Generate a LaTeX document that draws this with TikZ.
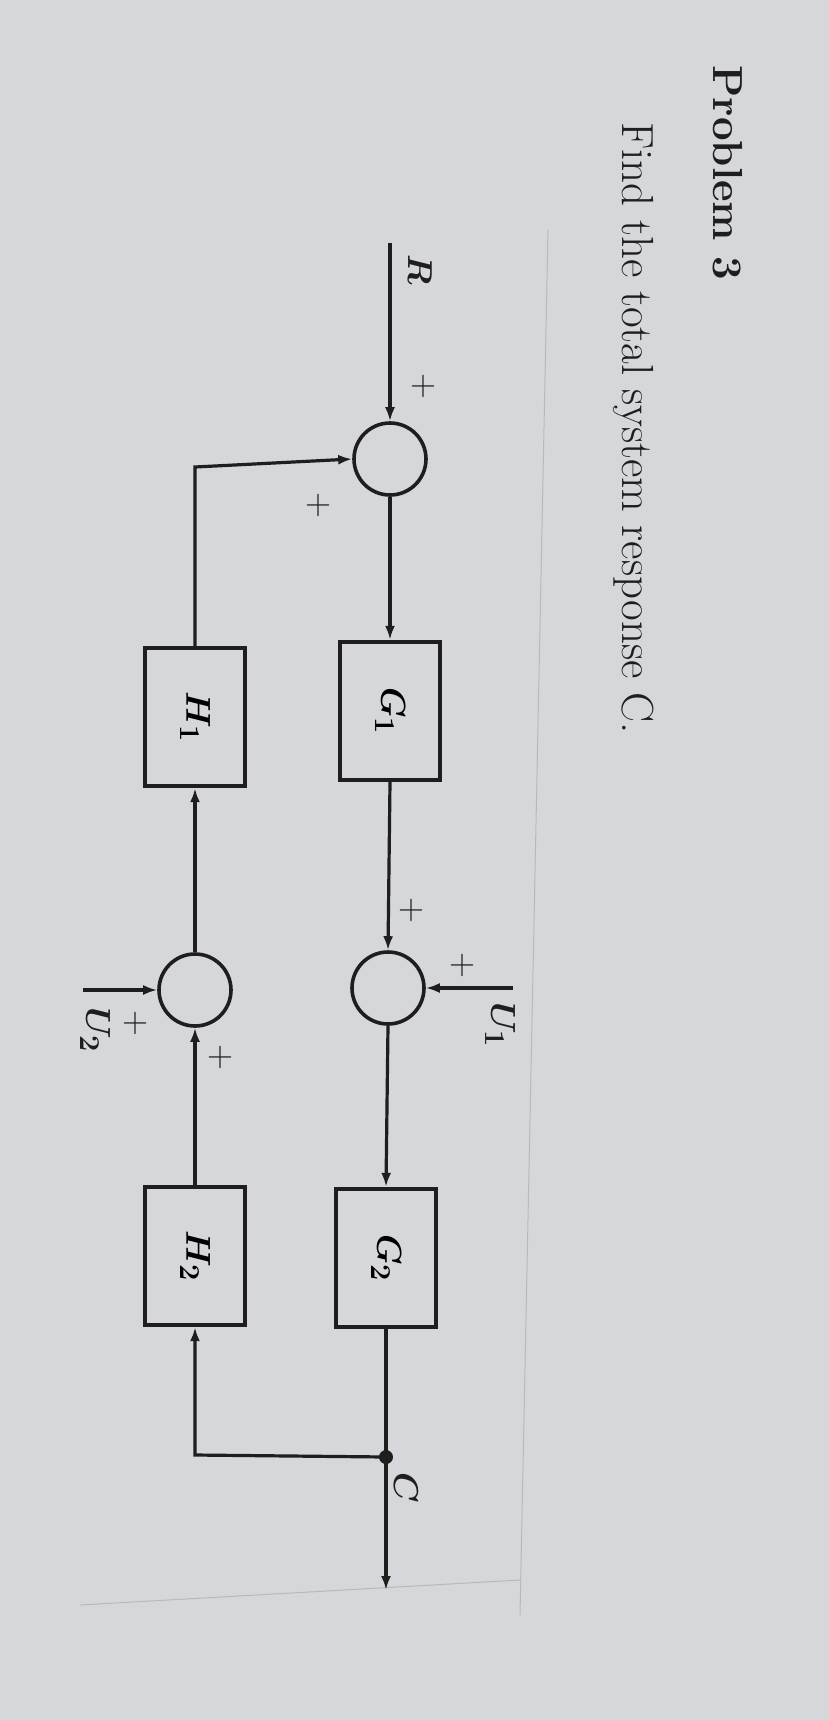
\documentclass[tikz,border=0pt]{standalone}
\usetikzlibrary{arrows.meta}
\definecolor{paper}{RGB}{214,215,219}
\definecolor{ink}{RGB}{30,30,30}
\begin{document}
\begin{tikzpicture}[x=0.5pt,y=-0.5pt,
  line/.style={draw=ink,line width=1.6pt},
  arr/.style={line,-{Latex[length=7pt,width=5pt]}},
  blk/.style={draw=ink,line width=2.2pt,minimum width=69pt,minimum height=50pt,inner sep=0pt,font=\fontsize{19}{22}\selectfont\boldmath,rotate=-90},
  sumj/.style={circle,draw=ink,line width=1.8pt,minimum size=36pt,inner sep=0pt},
  lbl/.style={text=ink,rotate=-90,font=\fontsize{19}{22}\selectfont\boldmath,inner sep=1pt},
  pl/.style={text=ink,rotate=-90,font=\fontsize{18}{20}\selectfont,inner sep=0pt}]
\fill[paper] (0,0) rectangle (829,1720);
\useasboundingbox (0,0) rectangle (829,1720);
\draw[gray!55,line width=0.5pt] (548,230) -- (520,1615);
\draw[gray!55,line width=0.5pt] (80,1605) -- (520,1580);
% titles
\node[text=ink,rotate=-90,font=\fontsize{21}{24}\selectfont\bfseries] (p3) at (728,173) {Problem 3};
\node[text=ink,rotate=-90,font=\fontsize{22.5}{26}\selectfont] (q) at (634,428) {Find the total system response C.};
% blocks
\node[sumj] (s1) at (390,459) {};
\node[sumj] (s2) at (388,988) {};
\node[sumj] (s3) at (195,990) {};
\node[blk] (g1) at (390,711) {$G_1$};
\node[blk] (h1) at (195,717) {$H_1$};
\node[blk] (g2) at (386,1258) {$G_2$};
\node[blk] (h2) at (195,1256) {$H_2$};
\coordinate (rin) at (390,243);
\coordinate (cdot) at (386,1457);
\coordinate (cout) at (386,1590);
\coordinate (u1) at (513,988);
\coordinate (u2) at (83,990);
\coordinate (fb1) at (195,467);
\coordinate (fb2) at (195,1455);
% connectors (rotated nodes: west = top, east = bottom)
\draw[arr] (rin) -- (s1.north);
\draw[arr] (s1.south) -- (g1.west);
\draw[arr] (g1.east) -- (s2.north);
\draw[arr] (s2.south) -- (g2.west);
\draw[line] (g2.east) -- (cdot);
\draw[arr] (cdot) -- (cout);
\fill[ink] (cdot) circle (3.5pt);
\draw[arr] (cdot) -- (fb2) -- (h2.east);
\draw[arr] (h2.west) -- (s3.south);
\draw[arr] (s3.north) -- (h1.east);
\draw[arr] (h1.west) -- (fb1) -- (s1.west);
\draw[arr] (u1) -- (s2.east);
\draw[arr] (u2) -- (s3.west);
% labels
\node[lbl] (lr) at (420,270) {$R$};
\node[lbl] (lc) at (406,1488) {$C$};
\node[lbl] (lu1) at (500,1025) {$U_1$};
\node[lbl] (lu2) at (95,1030) {$U_2$};
\node[pl] (pa) at (423,386) {+};
\node[pl] (pb) at (318,505) {+};
\node[pl] (pc) at (411,910) {+};
\node[pl] (pd) at (462,965) {+};
\node[pl] (pe) at (135,1023) {+};
\node[pl] (pf) at (220,1057) {+};
\end{tikzpicture}
\end{document}
